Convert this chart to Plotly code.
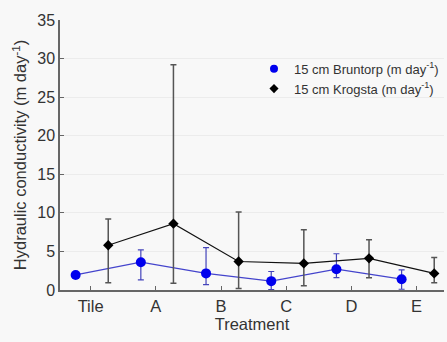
import plotly.graph_objects as go

categories = ["Tile", "A", "B", "C", "D", "E"]
bruntorp = [1.95, 3.6, 2.15, 1.15, 2.7, 1.4]
bruntorp_hi = [1.95, 5.2, 5.5, 2.4, 4.7, 2.6]
bruntorp_lo = [1.95, 1.3, 0.7, 0.05, 1.6, 0.1]
krogsta = [5.8, 8.6, 3.7, 3.45, 4.1, 2.15]
krogsta_hi = [9.2, 29.2, 10.1, 7.8, 6.5, 4.2]
krogsta_lo = [0.95, 0.87, 0.2, 0.56, 1.6, 0.95]

idx = list(range(len(categories)))
xb = [i - 0.23 for i in idx]
xk = [i + 0.27 for i in idx]

blue_name = "15 cm Bruntorp (m day<sup>-1</sup>)"
black_name = "15 cm Krogsta (m day<sup>-1</sup>)"

fig = go.Figure()
fig.add_trace(go.Scatter(
    x=xb, y=bruntorp, mode="lines+markers", showlegend=False,
    legendgroup="b",
    line=dict(color="#4444cc", width=1.2),
    marker=dict(color="#0000ee", size=10, symbol="circle"),
    error_y=dict(type="data", symmetric=False,
                 array=[h - v for h, v in zip(bruntorp_hi, bruntorp)],
                 arrayminus=[v - l for v, l in zip(bruntorp, bruntorp_lo)],
                 color="#4444bb", thickness=1.2, width=3),
))
fig.add_trace(go.Scatter(
    x=xk, y=krogsta, mode="lines+markers", showlegend=False,
    legendgroup="k",
    line=dict(color="#111111", width=1.1),
    marker=dict(color="#000000", size=8, symbol="diamond"),
    error_y=dict(type="data", symmetric=False,
                 array=[h - v for h, v in zip(krogsta_hi, krogsta)],
                 arrayminus=[v - l for v, l in zip(krogsta, krogsta_lo)],
                 color="#555555", thickness=1.5, width=3),
))
# legend-only entries (marker glyph only, like the reference)
fig.add_trace(go.Scatter(x=[None], y=[None], mode="markers", name=blue_name,
                         legendgroup="b",
                         marker=dict(color="#0000ee", size=8, symbol="circle")))
fig.add_trace(go.Scatter(x=[None], y=[None], mode="markers", name=black_name,
                         legendgroup="k",
                         marker=dict(color="#000000", size=7, symbol="diamond")))

font_family = "Liberation Sans, Arial, sans-serif"
fig.update_layout(
    width=447, height=342,
    margin=dict(l=60, r=3, t=20, b=52),
    paper_bgcolor="#f8f8f8", plot_bgcolor="#f8f8f8",
    font=dict(family=font_family, color="#333333", size=16),
    showlegend=True,
    legend=dict(x=1.0, y=0.875, xanchor="right", yanchor="top",
                bgcolor="rgba(0,0,0,0)", font=dict(size=13, color="#333333"),
                tracegroupgap=0, itemwidth=30),
    xaxis=dict(range=[-0.47, 5.42], tickvals=idx, ticktext=categories,
               showgrid=False, zeroline=False, showline=True,
               linecolor="#666666", linewidth=1.5, ticks="inside",
               ticklen=4, tickcolor="#666666",
               title=dict(text="Treatment", standoff=5, font=dict(size=16.5)),
               tickfont=dict(size=16.5)),
    yaxis=dict(range=[0, 35], tickvals=[0, 5, 10, 15, 20, 25, 30, 35],
               showgrid=True, gridcolor="#ececec", gridwidth=1,
               zeroline=False, showline=True, linecolor="#666666",
               linewidth=1.5, ticks="inside", ticklen=4, tickcolor="#666666",
               title=dict(text="Hydraulic conductivity (m day<sup>-1</sup>)",
                          standoff=6, font=dict(size=16.5)),
               tickfont=dict(size=16)),
)

fig.write_html("out.html")
